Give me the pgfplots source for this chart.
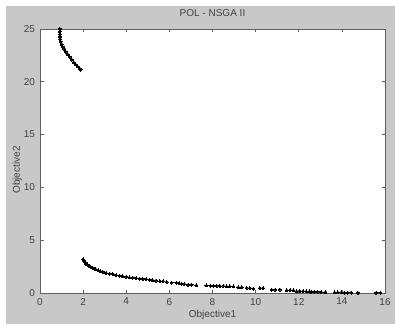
\documentclass[border=0pt]{standalone}
\usepackage{fontspec}
\setmainfont{Liberation Sans}
\usepackage{pgfplots}
\pgfplotsset{compat=1.18}

\definecolor{figgray}{RGB}{200,200,200}
\definecolor{axgray}{RGB}{95,95,95}
\definecolor{txtgray}{RGB}{65,65,65}

\begin{document}
\begin{tikzpicture}
  % figure window background
  \fill[white] (-40pt,-31pt) rectangle (355pt,293pt);
  \fill[figgray] (-34pt,-31pt) rectangle (355pt,286.5pt);
  \begin{axis}[
    at={(0pt,0pt)}, anchor=south west,
    scale only axis,
    width=345pt, height=264pt,
    xmin=0, xmax=16, ymin=0, ymax=25,
    xtick={0,2,...,16}, ytick={0,5,...,25},
    xtick pos=both, ytick pos=both,
    tick align=inside,
    major tick length=3.5pt,
    axis background/.style={fill=white},
    axis line style={axgray, line width=0.7pt},
    every tick/.style={axgray, line width=0.6pt},
    /pgf/number format/assume math mode=true,
    ticklabel style={font=\fontsize{10}{12}\selectfont, text=txtgray},
    xticklabel style={yshift=-1.5pt},
    yticklabel style={xshift=-1.5pt},
    title={POL - NSGA II},
    title style={at={(axis description cs:0.5,1)}, anchor=base, yshift=6.5pt,
                 font=\fontsize{10}{12}\selectfont, text=txtgray},
    xlabel={Objective1},
    xlabel style={at={(axis description cs:0.5,0)}, anchor=base, yshift=-24.5pt,
                  font=\fontsize{10}{12}\selectfont, text=txtgray},
    ylabel={Objective2},
    ylabel style={at={(axis description cs:0,0.466)}, anchor=base, yshift=20pt,
                  font=\fontsize{10}{12}\selectfont, text=txtgray},
  ]
    % first front segment
    \addplot[only marks, mark=*, mark size=1.5pt, mark options={fill=black, draw=black, line width=0pt}]
      coordinates {
        (0.92,25.0) (0.92,24.75) (0.92,24.5) (0.93,24.25) (0.94,24.05)
        (0.96,23.8) (1.00,23.55) (1.06,23.3) (1.13,23.1) (1.20,22.85)
        (1.28,22.6) (1.37,22.35) (1.47,22.1) (1.56,21.85) (1.65,21.65)
        (1.74,21.45) (1.84,21.25) (1.89,21.15)
      };
    % second front segment
    \addplot[only marks, mark=*, mark size=1.5pt, mark options={fill=black, draw=black, line width=0pt}]
      coordinates {
        (2.00,3.20) (2.02,3.10) (2.05,3.00) (2.08,2.92) (2.11,2.85)
        (2.14,2.78) (2.18,2.70) (2.22,2.62) (2.28,2.54) (2.35,2.46)
        (2.45,2.37) (2.52,2.30) (2.58,2.24) (2.69,2.15) (2.81,2.05)
        (2.92,1.99) (3.07,1.89) (3.23,1.83) (3.38,1.77) (3.53,1.70)
        (3.69,1.64) (3.84,1.58) (3.99,1.54) (4.15,1.49) (4.30,1.45)
        (4.46,1.42) (4.62,1.36) (4.77,1.33) (4.92,1.30) (5.08,1.26)
        (5.23,1.20) (5.38,1.17) (5.56,1.11) (5.71,1.11) (5.87,1.04)
        (6.10,0.98) (6.33,0.95) (6.45,0.92) (6.56,0.88) (6.70,0.85)
        (6.87,0.79) (7.03,0.79) (7.25,0.73) (7.72,0.73) (7.90,0.68)
        (8.05,0.68) (8.20,0.68) (8.34,0.66) (8.50,0.66) (8.65,0.63)
        (8.80,0.63) (8.97,0.63) (9.20,0.54) (9.35,0.54) (9.58,0.47)
        (9.73,0.47) (9.89,0.41) (10.20,0.47) (10.35,0.47) (10.74,0.31)
        (10.90,0.31) (11.13,0.31) (11.44,0.26) (11.60,0.26) (11.75,0.26)
        (11.90,0.16) (12.05,0.16) (12.20,0.16) (12.35,0.16) (12.50,0.16)
        (12.58,0.10) (12.73,0.10) (12.88,0.10) (13.04,0.08) (13.24,0.08)
        (13.66,0.05) (13.81,0.05) (13.97,0.05) (14.12,0.04) (14.27,0.04)
        (14.43,0.04) (14.74,0.03) (15.59,0.02) (15.79,0.01)
      };
  \end{axis}
\end{tikzpicture}
\end{document}
